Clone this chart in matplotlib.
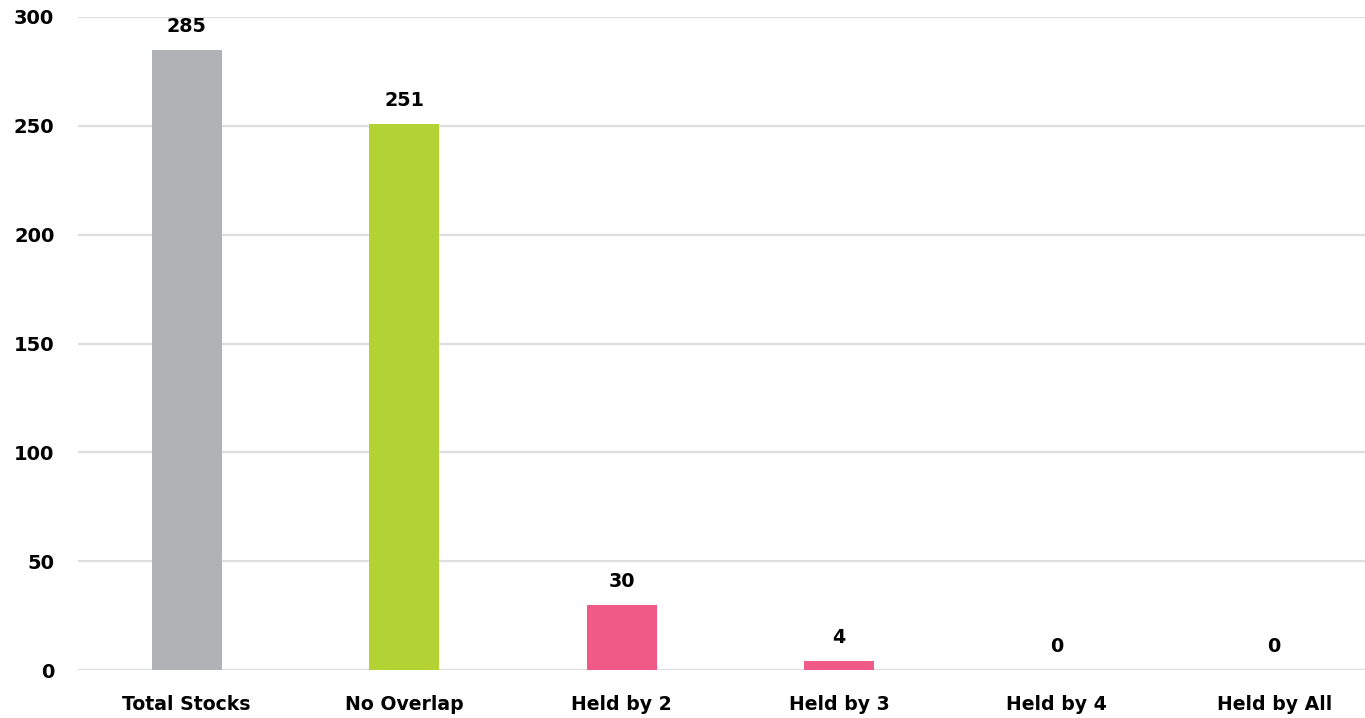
import matplotlib
matplotlib.use("Agg")
import matplotlib.pyplot as plt

# chart data
categories = ["Total Stocks", "No Overlap", "Held by 2", "Held by 3", "Held by 4", "Held by All"]
counts = [285, 251, 30, 4, 0, 0]
bar_colors = ["#B1B2B6", "#B3D335", "#F05A87", "#F05A87", "#F05A87", "#F05A87"]
y_ticks = [0, 50, 100, 150, 200, 250, 300]

plt.rcParams['font.family'] = ['DejaVu Sans']
plt.rcParams['font.weight'] = 'bold'

fig = plt.figure(figsize=(13.65, 7.18), dpi=100)
# axes runs a little past the right edge, like the original
ax = fig.add_axes([78 / 1365, 48 / 718, 1305 / 1365, 653 / 718])

x = range(len(categories))
ax.bar(x, counts, width=0.32, color=bar_colors, zorder=3)

# value labels above bars
for i, v in enumerate(counts):
    ax.annotate(str(v), (i, v), xytext=(0, 10), textcoords="offset points",
                ha="center", va="bottom", fontsize=13.8, fontweight="bold", color="#000000")

ax.set_xlim(-0.5, len(categories) - 0.5)
ax.set_ylim(0, 300)
ax.set_yticks(y_ticks)
ax.set_xticks(list(x))
ax.set_xticklabels(categories)

ax.grid(axis='y', color='#DEDEDE', linewidth=1.6, zorder=0)
ax.set_axisbelow(True)
for s in ax.spines.values():
    s.set_visible(False)

ax.tick_params(axis='both', length=0, labelcolor="#000000")
ax.tick_params(axis='y', pad=17, labelsize=14)
ax.tick_params(axis='x', pad=18, labelsize=13.6)
for lbl in ax.get_xticklabels() + ax.get_yticklabels():
    lbl.set_fontweight('bold')

fig.savefig("out.png", dpi=100)
